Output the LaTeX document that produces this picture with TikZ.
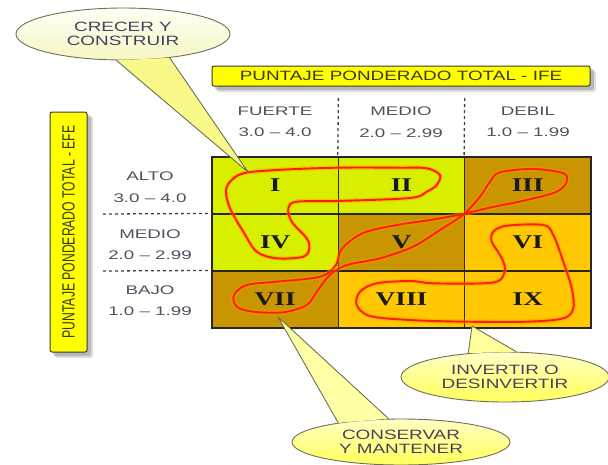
\documentclass[tikz,border=0pt]{standalone}
\usepackage{fontspec}
\setmainfont{Liberation Sans}
\newfontfamily\widesans[FakeStretch=1.4]{Liberation Sans}
\newfontfamily\widersans[FakeStretch=1.5]{Liberation Sans}
\newfontfamily\wideserif[FakeStretch=1.4]{Liberation Serif}
\usetikzlibrary{shapes.geometric}

\definecolor{limecell}{HTML}{D8EF00}
\definecolor{ochrecell}{HTML}{C99500}
\definecolor{ambercell}{HTML}{FFC800}
\definecolor{boxyellow}{HTML}{FFFF00}
\definecolor{boxedge}{HTML}{3A3A3A}
\definecolor{labelgray}{HTML}{50505F}
\definecolor{titletext}{HTML}{3A3A14}
\definecolor{calltext}{HTML}{4A3F5A}
\definecolor{loopred}{HTML}{FF1E00}
\definecolor{loophalo}{HTML}{FF9A00}
\definecolor{bubbleedge}{HTML}{6E6E5A}
\definecolor{creamtop}{HTML}{FFFFF6}
\definecolor{creambottom}{HTML}{F6F6C4}
\definecolor{yellowtop}{HTML}{FFFFC4}
\definecolor{yellowbottom}{HTML}{FFFF5A}

\newcommand\cellnumfont{\wideserif\bfseries\fontsize{19.5}{20}\selectfont}
\newcommand\axislabfont{\widersans\fontsize{12.5}{21.5}\selectfont}
\newcommand\titlefont{\widesans\fontsize{13.5}{14}\selectfont}
\newcommand\bubblefont{\widesans\fontsize{13.5}{14.5}\selectfont}

\begin{document}
\begin{tikzpicture}[x=1pt,y=-1pt,
  cell/.style={draw=black!85, line width=1.1pt, minimum width=126.3pt,
    minimum height=57pt, inner sep=0pt, font=\cellnumfont, text=black!90},
  axislabel/.style={font=\axislabfont, text=labelgray, align=center, inner sep=0pt},
  sepline/.style={draw=black!75, line width=1.3pt, dash pattern=on 3pt off 3pt},
  titlebox/.style={rectangle, rounded corners=2pt, fill=boxyellow, draw=boxedge,
    line width=1pt, inner sep=0pt, text=titletext},
  haloline/.style={draw=loophalo, line width=4.5pt, opacity=0.45, line join=round},
  redline/.style={draw=loopred, line width=1.9pt, line join=round},
  bubble/.style={ellipse, draw=bubbleedge, line width=0.9pt, inner sep=0pt,
    font=\bubblefont, text=calltext, align=center},
  tailedge/.style={draw=bubbleedge, line width=0.9pt, line join=round},
  boxshadow/.style={fill=black, rounded corners=2pt}
]
\useasboundingbox (0,0) rectangle (608,464);

% soft shadows behind the two axis title boxes
\fill[boxshadow, opacity=0.12] (217,71) rectangle (596,92);
\fill[boxshadow, opacity=0.18] (215,69) rectangle (594,90);
\fill[boxshadow, opacity=0.12] (55,117) rectangle (93,358);
\fill[boxshadow, opacity=0.18] (53,115) rectangle (91,356);

% axis title boxes
\node[titlebox, minimum width=378pt, minimum height=20pt, font=\titlefont]
  (ifebox) at (401,76) {PUNTAJE PONDERADO TOTAL - IFE};
\node[titlebox, rotate=90, minimum width=240pt, minimum height=37pt,
  font=\fontsize{12.2}{12.2}\selectfont]
  (efebox) at (68.5,232) {\scalebox{1}[1.45]{PUNTAJE PONDERADO TOTAL - EFE}};

% matrix cells
\node[cell, fill=limecell]  (c11) at (275.2,185.5) {I};
\node[cell, fill=limecell]  (c12) at (401.5,185.5) {II};
\node[cell, fill=ochrecell] (c13) at (527.8,185.5) {III};
\node[cell, fill=limecell]  (c21) at (275.2,242.5) {IV};
\node[cell, fill=ochrecell] (c22) at (401.5,242.5) {V};
\node[cell, fill=ambercell] (c23) at (527.8,242.5) {VI};
\node[cell, fill=ochrecell] (c31) at (275.2,299.5) {VII};
\node[cell, fill=ambercell] (c32) at (401.5,299.5) {VIII};
\node[cell, fill=ambercell] (c33) at (527.8,299.5) {IX};
\draw[draw=black!85, line width=1.5pt] (c11.north west) rectangle (c33.south east);

% column headings (IFE)
\node[axislabel] (fuerte) at (275,122) {FUERTE\\3.0 – 4.0};
\node[axislabel] (medioc) at (401,122) {MEDIO\\2.0 – 2.99};
\node[axislabel] (debil)  at (528,122) {DEBIL\\1.0 – 1.99};

% row headings (EFE)
\node[axislabel] (alto)   at (150,187) {ALTO\\3.0 – 4.0};
\node[axislabel] (mediof) at (150,244.5) {MEDIO\\2.0 – 2.99};
\node[axislabel] (bajo)   at (150,300.5) {BAJO\\1.0 – 1.99};

% dashed separators between headings
\coordinate (vsep1) at (338.4,98);
\coordinate (vsep2) at (464.7,98);
\coordinate (hsep1) at (103,214);
\coordinate (hsep2) at (103,271);
\draw[sepline] (vsep1) -- (c12.north west);
\draw[sepline] (vsep2) -- (c13.north west);
\draw[sepline] (hsep1) -- (c21.north west);
\draw[sepline] (hsep2) -- (c31.north west);

% strategy loops
\def\loopgrow{(230,181.7) (243.3,173.3) (276.7,170) (336.7,167.7) (400,167.7)
  (426.7,168.3) (440,175) (436.7,185) (426.7,191.7) (410,198) (336.7,201)
  (296.7,201.7) (288.3,208.3) (291.7,221.7) (306.7,238.3) (309.3,248.3)
  (303.3,256.7) (276.7,258.3) (256.7,251.7) (243.3,231.7) (230,208.3) (226,191.7)}
\def\loophold{(500,172.3) (533.3,169) (563.3,173.3) (566.7,181.7) (556.7,191.7)
  (526.7,200) (486.7,208.3) (463.3,214) (430,220) (397,225) (363,233)
  (341.7,249) (336,265) (320,276.7) (276.7,281.7) (246.7,285) (234,295)
  (236.7,306.7) (253.3,311.7) (283.3,312.3) (306.7,305) (316.7,291.7) (330,275)
  (347,265) (380,258.3) (413,246.7) (440,230) (463.3,214.5) (480,196.7) (490,181.7)}
\def\loopharvest{(493.3,231.7) (506.7,225.7) (543.3,225) (553.3,235) (563.3,261.7)
  (571.7,288.3) (573.3,308.3) (563.3,318.3) (526.7,321.7) (466.7,321.7) (410,320)
  (370,316) (356.7,305) (360,291.7) (376.7,283.3) (410,281) (433.3,283.3)
  (483.3,283.3) (500,280) (505,268.3) (500,255) (491.7,241.7)}
\foreach \pts in {\loopgrow,\loophold,\loopharvest}{
  \draw[haloline] plot[smooth cycle, tension=0.55] coordinates {\pts};
  \draw[redline]  plot[smooth cycle, tension=0.55] coordinates {\pts};
}

% callout: grow and build
\coordinate (tip1) at (248,172);
\node[bubble, minimum width=214pt, minimum height=52pt,
  top color=creamtop, bottom color=creambottom] (grow) at (123,34)
  {CRECER Y\\CONSTRUIR};
\fill[creambottom!70!yellow] (grow.256) -- (tip1) -- (grow.333) -- cycle;
\draw[tailedge] (grow.256) -- (tip1) -- (grow.333);

% callout: invest or divest
\coordinate (tip2) at (472,326);
\node[bubble, minimum width=208pt, minimum height=50pt,
  top color=yellowtop, bottom color=yellowbottom] (divest) at (505,377)
  {INVERTIR O\\DESINVERTIR};
\fill[yellowtop!60!yellowbottom] (divest.147.5) -- (tip2) -- (divest.66.5) -- cycle;
\draw[tailedge] (divest.147.5) -- (tip2) -- (divest.66.5);

% callout: hold and maintain
\coordinate (tip3) at (278,317);
\node[bubble, minimum width=218pt, minimum height=46pt,
  top color=yellowtop, bottom color=yellowbottom] (hold) at (401,442)
  {CONSERVAR\\Y MANTENER};
\fill[yellowtop!70!yellowbottom] (hold.163) -- (tip3) -- (hold.118) -- cycle;
\draw[tailedge] (hold.163) -- (tip3) -- (hold.118);
\end{tikzpicture}
\end{document}
